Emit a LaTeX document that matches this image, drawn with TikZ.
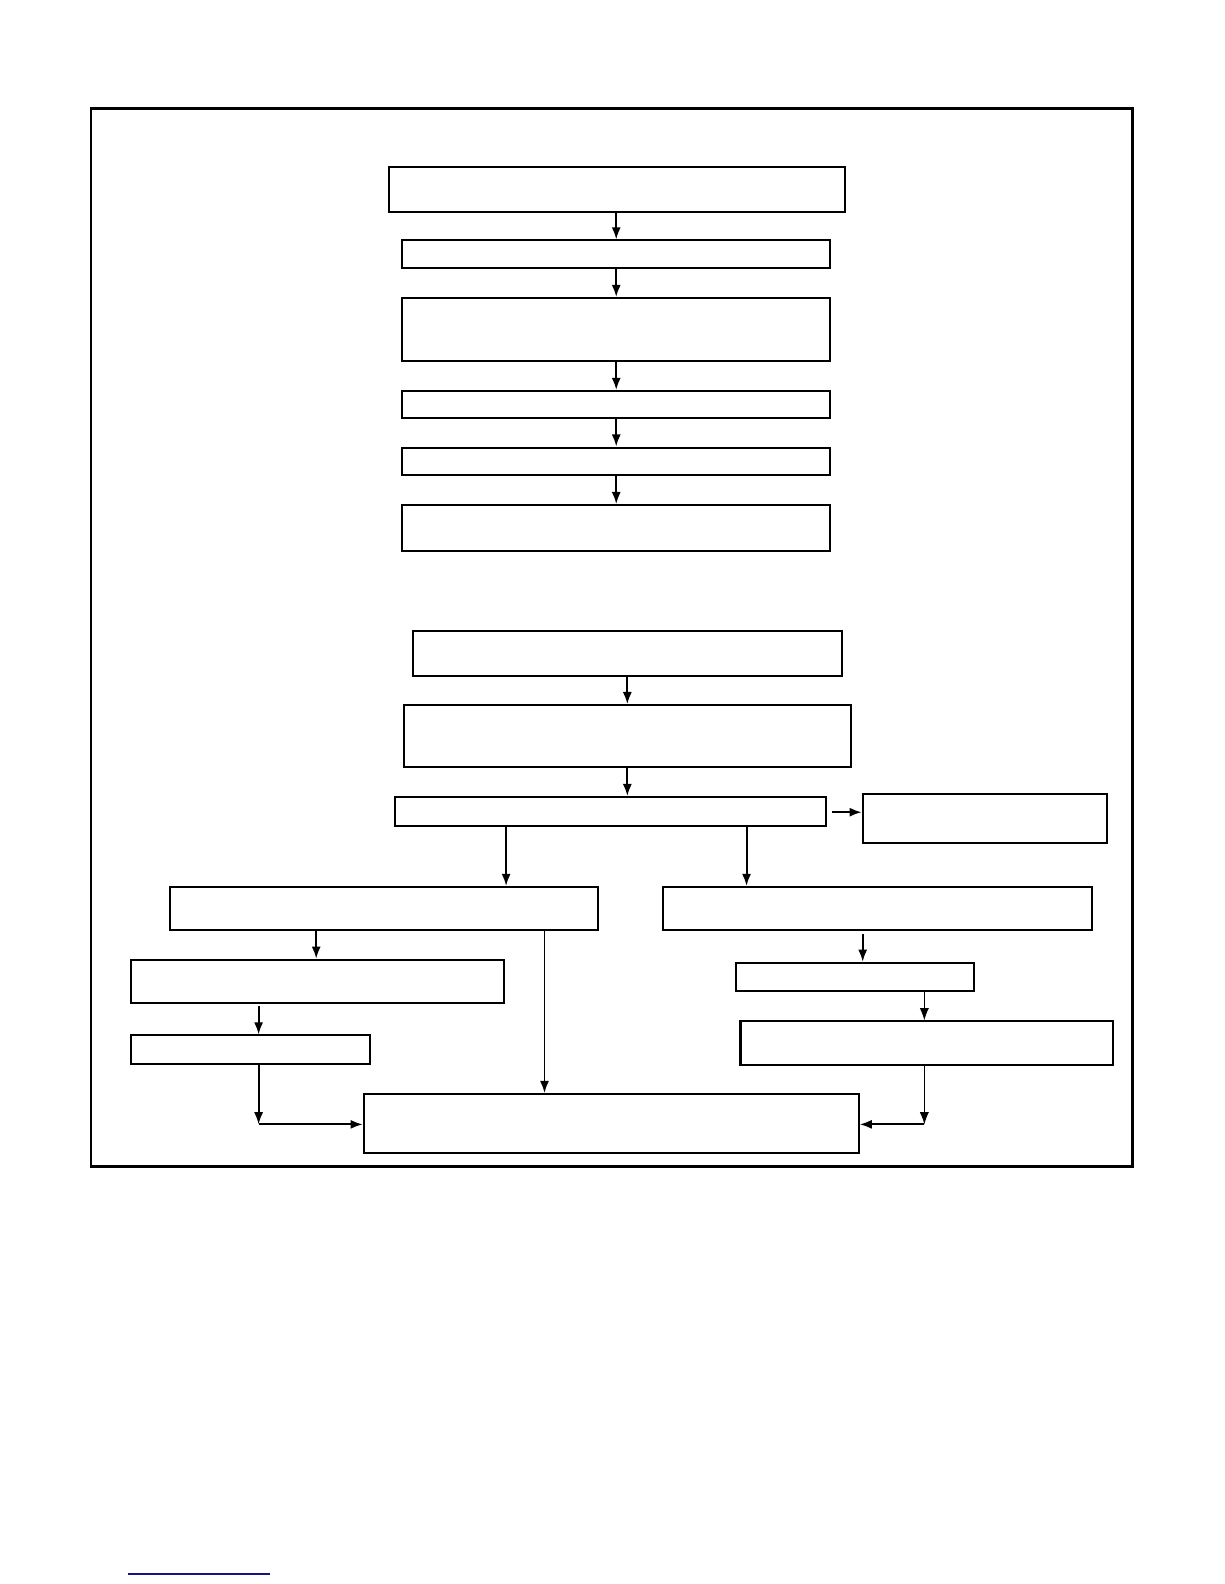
\documentclass[tikz,border=0pt]{standalone}
\usetikzlibrary{arrows.meta,calc}
\definecolor{navyline}{RGB}{20,20,130}
\tikzset{
  box/.style={draw, rectangle, line width=2pt, inner sep=0pt, fill=white},
  arr/.style={line width=1.9pt, -{Latex[length=12pt,width=9pt]}},
  thinarr/.style={line width=1pt, -{Latex[length=12pt,width=9pt]}},
}
\newcommand{\bx}[5]{% name, x1, x2, y1, y2
  \node[box, minimum width={#3pt-#2pt}, minimum height={#5pt-#4pt}] (#1) at ({(#2+#3)/2},{(#4+#5)/2}) {};}
\begin{document}
\begin{tikzpicture}[x=1pt,y=-1pt]
\useasboundingbox (0,0) rectangle (1212,1568);
\draw[line width=2.8pt] (90,107) rectangle (1121,1155);
% upper chain
\bx{b1}{385}{836}{165}{210}
\bx{b2}{398}{822}{238}{265}
\bx{b3}{398}{822}{295}{357}
\bx{b4}{398}{822}{387}{414}
\bx{b5}{398}{822}{443}{470}
\bx{b6}{398}{822}{500}{545}
% lower part
\bx{b7}{409}{833}{625}{669}
\bx{b8}{400}{842}{698}{759}
\bx{b9}{391}{818}{789}{818}
\bx{b10}{854}{1096}{786}{834}
\bx{b11}{168}{592}{878}{921}
\bx{b12}{656}{1081}{878}{921}
\bx{b13}{130}{499}{950}{993}
\bx{b14}{729}{964}{953}{981}
\bx{b15}{130}{366}{1025}{1053}
\bx{b16}{733}{1102}{1011}{1054}
\bx{b17}{360}{850}{1083}{1141}
% column coordinates
\coordinate (c610) at (610,0);
\coordinate (c621) at (621,0);
\coordinate (c501) at (501,0);
\coordinate (c739) at (739,0);
\coordinate (c313) at (313,0);
\coordinate (c539) at (539,0);
\coordinate (c854) at (854,0);
\coordinate (c915) at (915,0);
\coordinate (c256) at (256,0);
\coordinate (r1113) at (0,1113);
\coordinate (r804) at (0,804);
\coordinate (s9) at (824,804);
\coordinate (s12) at (854,925);
\coordinate (s13) at (256,996);
\coordinate (j15) at (256,1113);
\coordinate (j16) at (915,1113);
% arrows upper chain
\draw[arr] (b1.south -| c610) -- (b2.north -| c610);
\draw[arr] (b2.south -| c610) -- (b3.north -| c610);
\draw[arr] (b3.south -| c610) -- (b4.north -| c610);
\draw[arr] (b4.south -| c610) -- (b5.north -| c610);
\draw[arr] (b5.south -| c610) -- (b6.north -| c610);
% lower chain
\draw[arr] (b7.south -| c621) -- (b8.north -| c621);
\draw[arr] (b8.south -| c621) -- (b9.north -| c621);
\draw[arr] (s9) -- (b10.west |- r804);
\draw[arr] (b9.south -| c501) -- (b11.north -| c501);
\draw[arr] (b9.south -| c739) -- (b12.north -| c739);
\draw[arr] (b11.south -| c313) -- (b13.north -| c313);
\draw[arr] (b11.south -| c539) -- (b17.north -| c539);
\draw[arr] (s12) -- (b14.north -| c854);
\draw[thinarr] (b14.south -| c915) -- (b16.north -| c915);
\draw[arr] (s13) -- (b15.north -| c256);
\draw[arr] (b15.south -| c256) -- (j15);
\draw[arr] (j15) -- (b17.west |- r1113);
\draw[thinarr] (b16.south -| c915) -- (j16);
\draw[arr] (j16) -- (b17.east |- r1113);
% footnote rule
\draw[navyline, line width=1.3pt] (127,1558) -- (267,1558);
\end{tikzpicture}
\end{document}
